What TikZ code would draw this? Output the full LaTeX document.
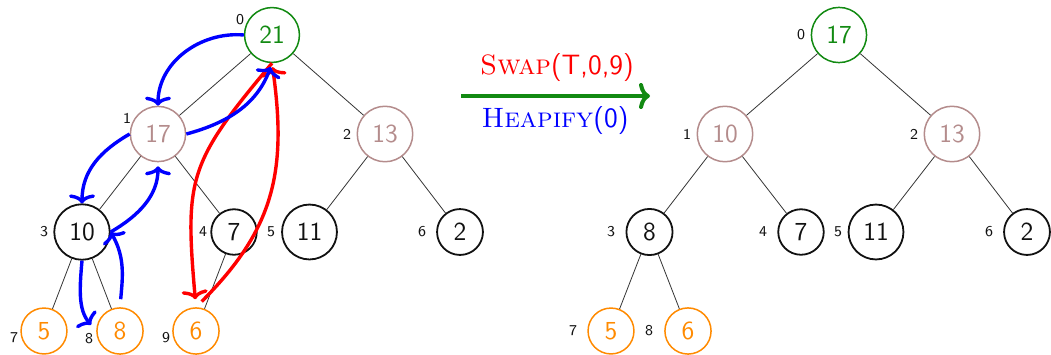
\documentclass[tikz,border=0pt]{standalone}
\usepackage{xcolor}
\usepackage{tikz}
\usetikzlibrary{arrows.meta,positioning}
\definecolor{heapGreen}{HTML}{128A12}
\definecolor{heapRose}{HTML}{B48C8C}
\definecolor{heapOrange}{HTML}{FF8A00}
\definecolor{heapInk}{HTML}{111111}
\tikzset{
  heapNode/.style={
    circle,
    draw=heapInk,
    text=heapInk,
    line width=0.9pt,
    inner sep=4.3pt,
    font=\sffamily\fontsize{13}{15}\selectfont
  },
  rootNode/.style={heapNode,draw=heapGreen,text=heapGreen,line width=0.75pt},
  innerNode/.style={heapNode,draw=heapRose,text=heapRose,line width=0.75pt},
  tailNode/.style={heapNode,draw=heapOrange,text=heapOrange,line width=0.75pt},
  idxLabel/.style={
    inner sep=0pt,
    text=heapInk,
    font=\sffamily\fontsize{7.5}{9}\selectfont
  },
  treeEdge/.style={
    line width=0.4pt,
    draw=heapInk!85
  },
  heapifyArrow/.style={
    -{To[length=4.5pt,width=13pt]},
    line width=1.7pt,
    draw=blue
  },
  swapArrow/.style={
    -{To[length=4.5pt,width=13pt]},
    line width=1.7pt,
    draw=red
  },
  stepArrow/.style={
    -{To[length=5.5pt,width=13pt]},
    line width=2pt,
    draw=heapGreen
  },
  opText/.style={
    inner sep=0pt,
    font=\sffamily\fontsize{14}{16}\selectfont
  }
}

\begin{document}
\begin{tikzpicture}[x=0.5pt,y=-0.5pt]
  \useasboundingbox (0,0) rectangle (1051,354);

  % heap before the step
  \node[rootNode] (a0) at (272,35) {21};
  \node[innerNode] (a1) at (158,134) {17};
  \node[innerNode] (a2) at (385,134) {13};
  \node[heapNode] (a3) at (82,232) {10};
  \node[heapNode] (a4) at (234,232) {7};
  \node[heapNode] (a5) at (309.5,232) {11};
  \node[heapNode] (a6) at (460,232) {2};
  \node[tailNode] (a7) at (44,331) {5};
  \node[tailNode] (a8) at (120,331) {8};
  \node[tailNode] (a9) at (196,331) {6};
  \node[idxLabel] (ia0) at (240,20) {0};
  \node[idxLabel] (ia1) at (127,118) {1};
  \node[idxLabel] (ia2) at (347,134) {2};
  \node[idxLabel] (ia3) at (44,232) {3};
  \node[idxLabel] (ia4) at (203,232) {4};
  \node[idxLabel] (ia5) at (271,232) {5};
  \node[idxLabel] (ia6) at (422,232) {6};
  \node[idxLabel] (ia7) at (14,338) {7};
  \node[idxLabel] (ia8) at (89,339) {8};
  \node[idxLabel] (ia9) at (166,338) {9};
  \draw[treeEdge] (a0) -- (a1);
  \draw[treeEdge] (a0) -- (a2);
  \draw[treeEdge] (a1) -- (a3);
  \draw[treeEdge] (a1) -- (a4);
  \draw[treeEdge] (a2) -- (a5);
  \draw[treeEdge] (a2) -- (a6);
  \draw[treeEdge] (a3) -- (a7);
  \draw[treeEdge] (a3) -- (a8);
  \draw[treeEdge] (a4) -- (a9);

  % swap of root and last leaf
  \draw[swapArrow,shorten >=4pt] (a0.south) to[out=230,in=95,looseness=1.3] (a9.north);
  \draw[swapArrow,shorten <=4pt,shorten >=2pt] (a9.north) to[out=45,in=-82,looseness=1.1] (a0.south);

  % sift-down comparisons
  \draw[heapifyArrow] (a0.west) to[out=175,in=90] (a1.north);
  \draw[heapifyArrow,shorten >=2pt] (a1.east) to[out=15,in=250] (a0.south);
  \draw[heapifyArrow] (a1.west) to[out=210,in=90] (a3.north);
  \draw[heapifyArrow,shorten >=2pt] (a3.east) to[out=30,in=270] (a1.south);
  \draw[heapifyArrow,shorten <=4pt] (a8.north) to[out=85,in=-60] (a3.east);
  \draw[heapifyArrow,shorten >=4pt] (a3.south) to[out=265,in=130] (a8.west);

  % step between the two heaps
  \coordinate (opL) at (461,96);
  \coordinate (opR) at (650,96);
  \draw[stepArrow] (opL) -- (opR);
  \node[opText,text=red] (swapOp) at (557,68) {{\rmfamily\textsc{Swap}}(T,0,9)};
  \node[opText,text=blue] (heapifyOp) at (555,121) {{\rmfamily\textsc{Heapify}}(0)};

  % heap after the step
  \node[rootNode] (b0) at (839,35) {17};
  \node[innerNode] (b1) at (725,134) {10};
  \node[innerNode] (b2) at (952,134) {13};
  \node[heapNode] (b3) at (649.5,232) {8};
  \node[heapNode] (b4) at (801,232) {7};
  \node[heapNode] (b5) at (876,232) {11};
  \node[heapNode] (b6) at (1027,232) {2};
  \node[tailNode] (b7) at (611,331) {5};
  \node[tailNode] (b8) at (688,331) {6};
  \node[idxLabel] (ib0) at (801,35) {0};
  \node[idxLabel] (ib1) at (687,134) {1};
  \node[idxLabel] (ib2) at (914,134) {2};
  \node[idxLabel] (ib3) at (611,232) {3};
  \node[idxLabel] (ib4) at (763,232) {4};
  \node[idxLabel] (ib5) at (838,232) {5};
  \node[idxLabel] (ib6) at (989,232) {6};
  \node[idxLabel] (ib7) at (573,331) {7};
  \node[idxLabel] (ib8) at (649,331) {8};
  \draw[treeEdge] (b0) -- (b1);
  \draw[treeEdge] (b0) -- (b2);
  \draw[treeEdge] (b1) -- (b3);
  \draw[treeEdge] (b1) -- (b4);
  \draw[treeEdge] (b2) -- (b5);
  \draw[treeEdge] (b2) -- (b6);
  \draw[treeEdge] (b3) -- (b7);
  \draw[treeEdge] (b3) -- (b8);
\end{tikzpicture}
\end{document}
